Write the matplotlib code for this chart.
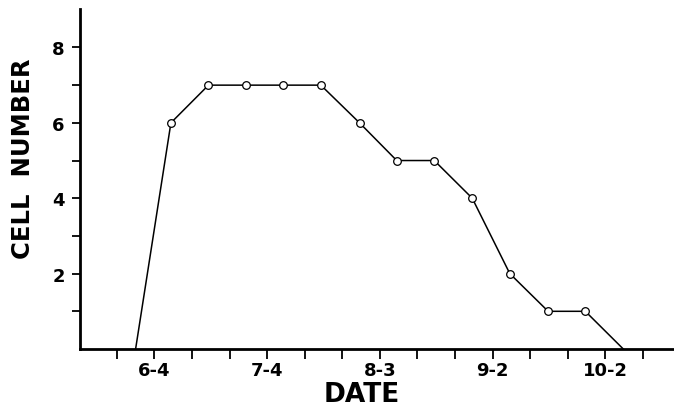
import matplotlib
matplotlib.use("Agg")
import matplotlib.pyplot as plt

# days since 6-4
days = [-5, 4.4, 14.4, 24.4, 34.3, 44.3, 54.6, 64.5, 74.5, 84.6, 94.6, 104.8, 114.7, 124.8]
cells = [0, 6, 7, 7, 7, 7, 6, 5, 5, 4, 2, 1, 1, 0]
marked = [False] + [True] * 12 + [False]

xtick_days = list(range(-10, 131, 10))
xtick_labels = {0: "6-4", 30: "7-4", 60: "8-3", 90: "9-2", 120: "10-2"}
yticks = [1, 2, 3, 4, 5, 6, 7, 8]
ytick_labels = {2: "2", 4: "4", 6: "6", 8: "8"}

fig = plt.figure(figsize=(6.74, 4.14), dpi=100)
ax = fig.add_axes([80/674, 1-350/414, 1-80/674, 340/414])

ax.plot(days, cells, color="black", lw=1.1, zorder=2)
mx = [d for d, m in zip(days, marked) if m]
my = [c for c, m in zip(cells, marked) if m]
ax.plot(mx, my, ls="none", marker="o", ms=5.5, mfc="white", mec="black", mew=0.9, zorder=3)

ax.set_xlim(-19.8, 138.3)
ax.set_ylim(0, 9.02)
ax.spines["top"].set_visible(False)
ax.spines["right"].set_visible(False)
ax.spines["left"].set_linewidth(2)
ax.spines["bottom"].set_linewidth(2)

ax.set_xticks(xtick_days)
ax.set_xticklabels([xtick_labels.get(d, "") for d in xtick_days])
ax.set_yticks(yticks)
ax.set_yticklabels([ytick_labels.get(v, "") for v in yticks])
ax.tick_params(axis="x", direction="out", length=7, width=1.3, pad=2, labelsize=13)
ax.tick_params(axis="y", direction="out", length=6, width=1.3, pad=5, labelsize=13)
for t in ax.get_xticklabels() + ax.get_yticklabels():
    t.set_fontweight("bold")

fig.text(23/674, 1-159/414, "CELL  NUMBER", rotation=90, ha="center", va="center",
         fontsize=17.5, fontweight="bold")
fig.text(362/674, 1-395/414, "DATE", ha="center", va="center",
         fontsize=19, fontweight="bold")

fig.savefig("out.png", dpi=100)
